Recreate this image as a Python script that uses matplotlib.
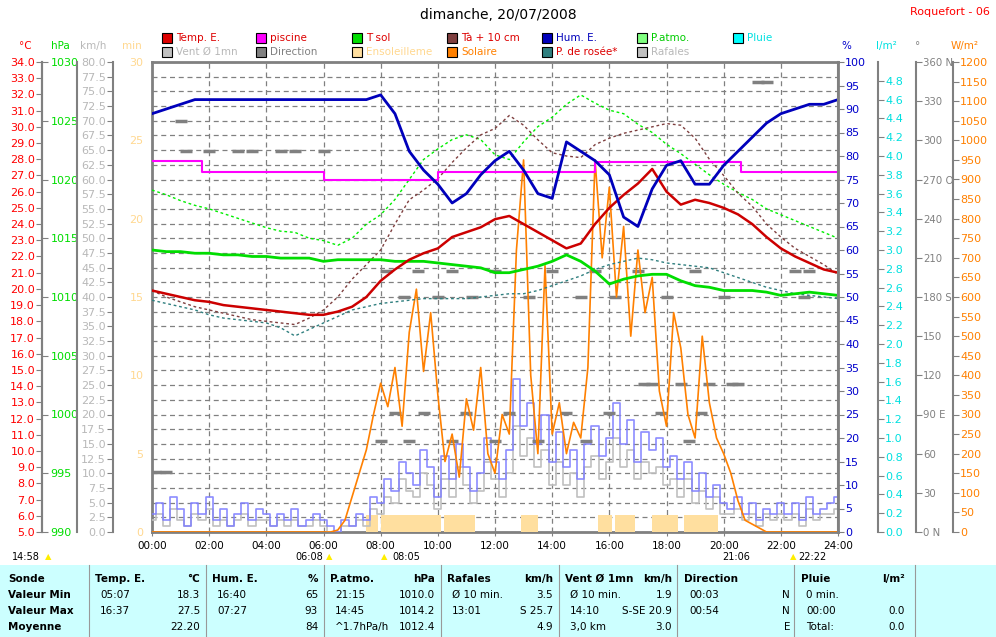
import numpy as np
import matplotlib
matplotlib.use("Agg")
import matplotlib.pyplot as plt
from matplotlib.patches import Rectangle

plt.rcParams['font.family'] = ['DejaVu Sans']

# ---------------- data ----------------
t30 = np.arange(0, 24.01, 0.5)
temp_e = [19.9,19.7,19.5,19.3,19.2,19.0,18.9,18.8,18.7,18.6,18.5,18.4,18.4,18.6,18.9,19.5,20.5,21.2,21.8,22.2,22.5,23.2,23.5,23.8,24.3,24.5,24.0,23.5,23.0,22.5,22.8,24.0,25.0,25.8,26.5,27.4,26.0,25.2,25.5,25.3,25.0,24.6,24.0,23.2,22.5,22.0,21.6,21.2,21.0]
hum_e = [89,90,91,92,92,92,92,92,92,92,92,92,92,92,92,92,93,89,81,77,74,70,72,76,79,81,77,72,71,83,81,79,76,67,65,73,78,79,74,74,78,81,84,87,89,90,91,91,92]
t_sol = [22.4,22.3,22.3,22.2,22.2,22.1,22.1,22.0,22.0,21.9,21.9,21.9,21.7,21.8,21.8,21.8,21.8,21.7,21.7,21.7,21.6,21.5,21.4,21.3,21.0,21.0,21.2,21.4,21.7,22.1,21.7,21.1,20.3,20.6,20.8,20.9,20.9,20.5,20.2,20.1,19.9,19.9,19.9,19.8,19.6,19.7,19.8,19.7,19.6]
t_a10 = [19.9,19.5,19.2,18.9,18.7,18.5,18.3,18.1,18.0,17.9,17.8,18.2,18.7,19.5,20.6,21.5,22.4,24.0,25.5,26.1,26.8,27.8,28.7,29.5,29.9,30.7,30.1,29.2,28.4,28.2,28.1,28.9,29.3,29.6,29.8,30.0,30.2,30.1,29.3,28.0,27.0,25.9,25.1,24.0,23.2,22.5,22.0,21.5,20.9]
p_rosee = [19.3,19.1,18.9,18.7,18.4,18.2,18.1,18.0,17.9,17.6,17.1,17.5,17.9,18.3,18.7,18.9,19.1,19.2,19.3,19.4,19.4,19.4,19.4,19.5,19.6,19.7,19.7,19.9,20.2,20.5,20.8,21.2,21.5,21.7,21.9,21.8,21.6,21.5,21.4,21.3,21.0,20.7,20.4,20.1,19.9,19.7,19.6,19.5,19.4]
p_atmo = [1019.1,1018.7,1018.2,1017.8,1017.5,1017.1,1016.7,1016.3,1015.9,1015.6,1015.5,1015.0,1014.8,1014.4,1015.0,1016.2,1017.0,1018.3,1020.0,1021.7,1022.6,1023.4,1023.8,1023.4,1022.1,1021.7,1023.2,1024.5,1025.3,1026.4,1027.2,1026.5,1025.9,1025.6,1024.7,1024.0,1023.0,1022.2,1021.3,1020.4,1019.6,1018.9,1018.3,1017.5,1017.0,1016.5,1016.0,1015.5,1015.0]
piscine_t = [0, 1.75, 1.75, 6.0, 6.0, 10.0, 10.0, 15.5, 15.5, 20.6, 20.6, 24.0]
piscine_v = [27.9, 27.9, 27.2, 27.2, 26.7, 26.7, 27.2, 27.2, 27.8, 27.8, 27.2, 27.2]

t15 = np.arange(0, 24.01, 0.25)
vent_lav = [3,5,2,6,4,1,5,3,6, 2,4,1,3,5,2,4,3, 1,3,2,4,1,2,3,2, 1,0,2,1,3,2,6,5,
            9,7,12,10,8,14,11,6, 13,9,15,11,7,10,16,12, 9,14,26,18,22,15,20,12,
            17,11,14,9,15,18,13,16, 22,15,19,12,17,14,16,11, 13,9,12,7,10,6,8,5,
            4,6,3,5,2,4,3,5, 3,5,2,6,3,4,5,6]
rafales = [2,3,1,4,2,1,3,2,4, 1,2,1,2,3,1,2,2, 1,2,1,2,1,1,2,1, 0,0,1,1,2,1,4,3,
           6,5,9,7,6,10,8,4, 9,6,11,8,5,7,12,9, 6,10,18,13,16,11,14,8,
           12,8,10,6,11,13,9,12, 16,11,14,9,12,10,11,8, 9,6,9,5,7,4,6,3,
           3,4,2,3,1,3,2,3, 2,3,1,4,2,3,3,4]
solaire = [0]*26 + [5,30,90,150,210,300,380,320,420,270,510,620,410,560,350,180,250,140,340,260,
                    420,200,150,300,250,720,950,400,200,680,250,330,200,280,240,420,950,700,880,600,
                    780,500,720,560,650,360,270,560,470,300,240,500,330,240,200,150,80,30,20,10,0] + [0]*10

ens_start = [7.5, 8.0, 10.2, 12.9, 15.6, 16.2, 17.5, 18.6]
ens_end = [7.9, 10.1, 11.3, 13.5, 16.1, 16.9, 18.4, 19.8]
ens_val = [1.1, 1.1, 1.1, 1.1, 1.1, 1.1, 1.1, 1.1]

dir_t = [0.1,0.5,1.0,1.2,2.0,3.0,3.5,4.5,5.0,6.0,8.2,8.8,9.3,10.0,10.5,11.2,12.0,13.2,14.0,15.0,15.5,16.2,17.0,
         17.5,18.0,18.5,19.0,19.5,20.0,20.3,21.2,21.5,22.5,23.0,8.5,9.5,11.0,12.5,14.5,16.0,17.8,19.2,8.0,9.0,10.5,12.0,13.5,15.2,17.2,18.8,20.5,22.8]
dir_v = [46,46,315,292,292,292,292,292,292,292,200,180,200,180,200,180,200,180,200,180,200,180,200,
         113,180,113,200,113,180,113,345,345,200,200,91,91,91,91,91,91,91,91,70,70,70,70,70,70,113,70,113,180]

# ---------------- figure ----------------
fig = plt.figure(figsize=(9.96, 6.37), dpi=100)
rect = [152/996, 1-532/637, 686/996, 470/637]
main = fig.add_axes(rect)
main.set_xlim(0, 24)
main.set_ylim(0, 80)
for s in main.spines.values():
    s.set_color('#808080'); s.set_linewidth(2)
main.set_yticks(np.arange(0, 80.1, 2.5))
main.set_xticks(np.arange(0, 24.1, 2))
main.set_xticklabels([f"{h:02d}:00" for h in range(0, 25, 2)], fontsize=7.5)
main.tick_params(axis='y', left=False, labelleft=False)
main.tick_params(axis='x', length=3, color='#808080')
main.grid(True, color='#808080', linestyle=(0, (4, 3)), linewidth=0.9)

def scale_axis(side, pos, ylim, ticks, labels, color, fs=8):
    ax = fig.add_axes(rect, facecolor='none')
    ax.set_xlim(0, 24)
    for s in ax.spines.values():
        s.set_visible(False)
    sp = ax.spines[side]
    sp.set_visible(True); sp.set_position(('axes', pos)); sp.set_color('#808080'); sp.set_linewidth(1.5)
    ax.yaxis.set_ticks_position(side)
    ax.set_ylim(ylim)
    ax.set_yticks(ticks)
    ax.set_yticklabels(labels)
    ax.tick_params(axis='y', colors='#808080', labelcolor=color, labelsize=fs, length=4, pad=1)
    ax.tick_params(axis='x', bottom=False, labelbottom=False)
    return ax

ax_min = scale_axis('left', 0.0, (0, 30), np.arange(0, 31, 5), [str(v) for v in range(0, 31, 5)], '#ffd890')
ax_min.spines['left'].set_visible(False)
ax_min.tick_params(axis='y', length=0, pad=6)
for a, b, v in zip(ens_start, ens_end, ens_val):
    ax_min.bar(a, v, width=b - a, align='edge', color='#ffdf9f', linewidth=0)

kmt = np.arange(0, 80.1, 2.5)
ax_km = scale_axis('left', (113-152)/686, (0, 80), kmt, [f"{v:.1f}" for v in kmt], '#b8b8b8')
ax_km.step(t15, rafales, where='mid', color='#c0c0c0', lw=1.2)
ax_km.step(t15, vent_lav, where='mid', color='#8080ff', lw=1.2, alpha=0.9)
fig.add_artist(plt.Line2D([77/996, 77/996], [rect[1], rect[1]+rect[3]], color='#808080', lw=1.5))

dticks = np.arange(0, 361, 30)
dlab = {0: '0 N', 90: '90 E', 180: '180 S', 270: '270 O', 360: '360 N'}
ax_dir = scale_axis('right', (916-152)/686, (0, 360), dticks, [dlab.get(v, str(v)) for v in dticks], '#808080', fs=7.3)
ax_dir.plot(dir_t, dir_v, linestyle='none', marker='_', markersize=9, mew=2.5, color='#808080')

wt = np.arange(0, 1201, 50)
ax_w = scale_axis('right', (953-152)/686, (0, 1200), wt, [str(v) for v in wt], '#ff8000')
ax_w.plot(t15, solaire, color='#ff8000', lw=1.2)

pt = np.arange(0, 4.81, 0.2)
ax_p = scale_axis('right', (878-152)/686, (0, 5), pt, [f"{v:.1f}" for v in pt], '#00e0e0')

ht = np.arange(990, 1031, 5)
ax_h = scale_axis('right', (42-152)/686, (990, 1030), ht, [str(v) for v in ht], '#00dd00')
ax_h.tick_params(axis='y', pad=2)
ax_h.plot(t30, p_atmo, color='#00ee00', lw=1, linestyle=(0, (2, 2)))

ct = np.arange(5, 34.1, 1)
ax_c = scale_axis('left', (42-152)/686, (5, 34), ct, [f"{v:.1f}" for v in ct], '#ff0000')
ax_c.plot(t30, t_a10, color='#7f3f3f', lw=1, linestyle=(0, (2, 2)))
ax_c.plot(t30, p_rosee, color='#2f7f7f', lw=1, linestyle=(0, (2, 2)))
ax_c.plot(t30, t_sol, color='#00dd00', lw=2)
ax_c.plot(piscine_t, piscine_v, color='#ff00ff', lw=1.5)
ax_c.plot(t30, temp_e, color='#cc0000', lw=1.8)

hmt = np.arange(0, 101, 5)
ax_hu = scale_axis('right', 1.0, (0, 100), hmt, [str(v) for v in hmt], '#0000cc')
ax_hu.plot(t30, hum_e, color='#0000bb', lw=2)

def ftext(x, y, s, **kw):
    fig.text(x/996, 1-y/637, s, **kw)

ftext(498, 15, "dimanche, 20/07/2008", ha='center', va='center', fontsize=10)
ftext(990, 12, "Roquefort - 06", ha='right', va='center', fontsize=8, color='#ff0000')
for x, s, c in [(25, '°C', '#ff0000'), (60, 'hPa', '#00dd00'), (93, 'km/h', '#b8b8b8'), (132, 'min', '#ffd890'),
                (846, '%', '#0000cc'), (886, 'l/m²', '#00e0e0'), (918, '°', '#808080'), (965, 'W/m²', '#ff8000')]:
    ftext(x, 46, s, ha='center', va='center', fontsize=7.5, color=c)

legend = [
    (162, 38, '#dd0000', 'Temp. E.', '#dd0000'), (256, 38, '#ff00ff', 'piscine', '#dd0000'),
    (352, 38, '#00dd00', 'T sol', '#dd0000'), (447, 38, '#7f3f3f', 'Tà + 10 cm', '#dd0000'),
    (542, 38, '#0000bb', 'Hum. E.', '#0000bb'), (637, 38, '#80ff80', 'P.atmo.', '#00cc00'),
    (733, 38, '#00ffff', 'Pluie', '#00e0e0'),
    (162, 52, '#c0c0c0', 'Vent Ø 1mn', '#b8b8b8'), (256, 52, '#808080', 'Direction', '#808080'),
    (352, 52, '#ffdf9f', 'Ensoleilleme', '#ffd890'), (447, 52, '#ff8000', 'Solaire', '#ff8000'),
    (542, 52, '#2f7f7f', 'P. de rosée*', '#dd0000'), (637, 52, '#c0c0c0', 'Rafales', '#b8b8b8'),
]
for x, y, fc, s, tc in legend:
    fig.add_artist(Rectangle((x/996, 1-(y+5)/637), 10/996, 10/637, transform=fig.transFigure,
                             facecolor=fc, edgecolor='black', lw=0.8))
    ftext(x+14, y, s, ha='left', va='center', fontsize=7.5, color=tc)

for x, s in [(12, '14:58'), (295, '06:08'), (392, '08:05'), (722, '21:06'), (798, '22:22')]:
    ftext(x, 557, s, ha='left', va='center', fontsize=7)
for x in [48, 329, 384, 793]:
    ftext(x, 557, '▲', ha='center', va='center', fontsize=6, color='#ffee00')

fig.add_artist(Rectangle((0, 0), 1, 72/637, transform=fig.transFigure, facecolor='#ccffff', edgecolor='none'))
for x in [89, 206, 324, 441, 559, 677, 794, 915]:
    fig.add_artist(plt.Line2D([x/996, x/996], [0, 72/637], color='#999999', lw=0.8))
rows_y = [579, 595, 611, 627]
for y, s in zip(rows_y, ['Sonde', 'Valeur Min', 'Valeur Max', 'Moyenne']):
    ftext(8, y, s, ha='left', va='center', fontsize=7.5, fontweight='bold')
cols = [
    (95, 200, ('Temp. E.', '°C'), [('05:07', '18.3'), ('16:37', '27.5'), ('', '22.20')]),
    (212, 318, ('Hum. E.', '%'), [('16:40', '65'), ('07:27', '93'), ('', '84')]),
    (330, 435, ('P.atmo.', 'hPa'), [('21:15', '1010.0'), ('14:45', '1014.2'), ('^1.7hPa/h', '1012.4')]),
    (447, 553, ('Rafales', 'km/h'), [('Ø 10 min.', '3.5'), ('13:01', 'S 25.7'), ('', '4.9')]),
    (565, 672, ('Vent Ø 1mn', 'km/h'), [('Ø 10 min.', '1.9'), ('14:10', 'S-SE 20.9'), ('3,0 km', '3.0')]),
    (684, 790, ('Direction', ''), [('00:03', 'N'), ('00:54', 'N'), ('', 'E')]),
    (801, 905, ('Pluie', 'l/m²'), [('0 min.', ''), ('00:00', '0.0'), ('Total:', '0.0')]),
]
for xl, xr, (h1, h2), vals in cols:
    ftext(xl, rows_y[0], h1, ha='left', va='center', fontsize=7.5, fontweight='bold')
    ftext(xr, rows_y[0], h2, ha='right', va='center', fontsize=7.5, fontweight='bold')
    for y, (a, b) in zip(rows_y[1:], vals):
        ftext(xl + 5, y, a, ha='left', va='center', fontsize=7.5)
        ftext(xr, y, b, ha='right', va='center', fontsize=7.5)

fig.savefig('out.png', dpi=100)
